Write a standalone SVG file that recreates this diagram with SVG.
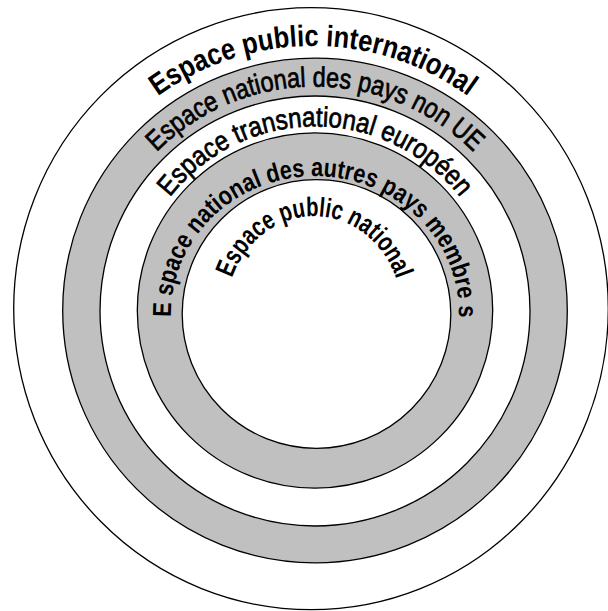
<svg xmlns="http://www.w3.org/2000/svg" width="608" height="611" viewBox="0 0 608 611">
<style>
.ring{stroke:#000;stroke-width:1.3}
.g{fill:#c0c0c0}
.w{fill:#fff}
.lbl{font-family:"Liberation Sans",Arial,sans-serif;fill:#000}
.b{font-weight:bold}
.r{font-weight:normal;stroke:#000;stroke-width:0.7}
</style>
<defs>
<path id="p1" d="M157.8,96.4 A264,264 0 0 1 468.2,96.4"/>
<path id="p2" d="M156.6,152.1 A224,224 0 0 1 473.4,152.1"/>
<path id="p3" d="M170,197.2 A184,184 0 0 1 460,197.2"/>
<path id="p4" d="M171.03,317 A144,138 0 1 1 458.97,317"/>
<path id="p5" d="M232,278 A88,97 0 0 1 396,278"/>
</defs>
<rect width="608" height="611" fill="#fff"/>
<g id="ring-international"><ellipse class="ring w" cx="311" cy="308.7" rx="297.3" ry="301"/></g>
<g id="ring-non-ue"><circle class="ring g" cx="315" cy="310.5" r="252.3"/></g>
<g id="ring-transnational"><circle class="ring w" cx="315" cy="311" r="215"/></g>
<g id="ring-autres"><circle class="ring g" cx="315" cy="310.5" r="177.7"/></g>
<g id="ring-national"><circle class="ring w" cx="316.5" cy="314" r="134.3"/></g>
<g id="labels">
<text class="lbl b" font-size="30"><textPath href="#p1" textLength="331.7" lengthAdjust="spacingAndGlyphs">Espace public international</textPath></text>
<text class="lbl r" font-size="28"><textPath href="#p2" textLength="352" lengthAdjust="spacingAndGlyphs">Espace national des pays non UE</textPath></text>
<text class="lbl r" font-size="28"><textPath href="#p3" textLength="334" lengthAdjust="spacingAndGlyphs">Espace transnational européen</textPath></text>
<text class="lbl b" font-size="26"><textPath href="#p4" textLength="449" lengthAdjust="spacingAndGlyphs">E space national des autres pays membre s</textPath></text>
<text class="lbl b" font-size="27"><textPath href="#p5" textLength="220" lengthAdjust="spacingAndGlyphs">Espace public national</textPath></text>
</g>
</svg>
